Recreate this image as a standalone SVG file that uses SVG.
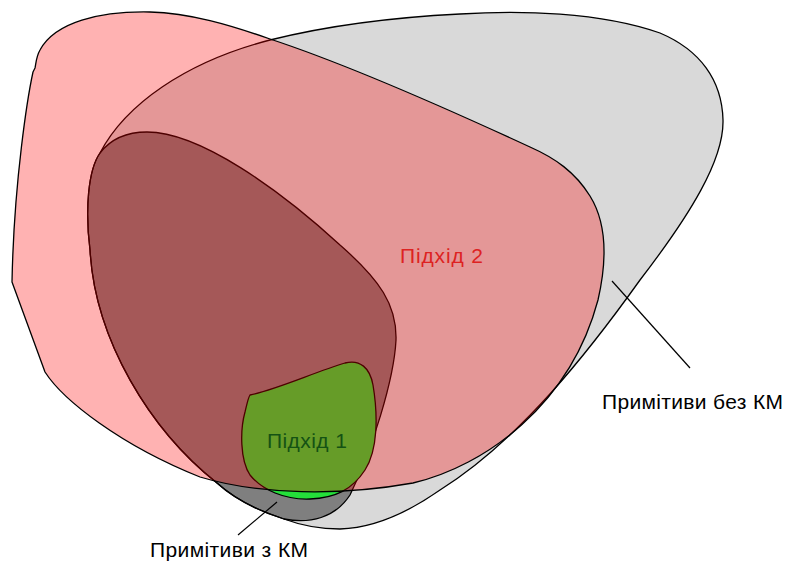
<svg xmlns="http://www.w3.org/2000/svg" width="787" height="563" viewBox="0 0 787 563">
<style>
.shape{stroke:#000;stroke-width:1.3;stroke-linejoin:round}
.lbl{font-family:"Liberation Sans","DejaVu Sans",sans-serif;font-size:21px}
.lead{stroke:#000;stroke-width:1.2;fill:none}
</style>
<rect width="787" height="563" fill="#fff"/>
<g id="primitives-all">
<path class="shape" fill="#d9d9d9" d="M100,153 C125,105 185,62 270,40 C330,25 400,17 460,14 C520,10 600,12 660,33 C700,50 722,80 723,120 C724,160 690,215 640,280 C590,350 520,440 440,490 C410,511 375,528 340,529 C320,529 300,525 284,519 C262,512 238,502 217,483 C150,430 95,340 90,250 C85,210 88,170 100,153 Z"/>
</g>
<g id="primitives-km">
<path class="shape" fill="#000" fill-opacity="0.41" d="M100,153 C110,140 125,132 147,132 C200,132 280,190 340,245 C380,280 397,305 396,340 C394,380 372,450 350,495 C335,518 310,524 284,519 C262,512 238,502 217,483 C150,430 95,340 90,250 C85,210 88,170 100,153 Z"/>
</g>
<g id="approach-1">
<path class="shape" fill="#24e03a" d="M250,395 C275,390 315,372 345,363 C360,359 370,368 373,385 C378,415 378,450 365,470 C352,490 335,498 310,499 C285,500 262,490 250,475 C240,460 240,430 245,412 C247,404 248,398 250,395 Z"/>
</g>
<g id="approach-2">
<path class="shape" fill="#ff0000" fill-opacity="0.3" d="M12,282 L45,372 C63,400 120,445 200,477 C260,495 340,496 413,483 C485,466 570,405 598,300 C606,265 608,225 590,196 C575,172 555,158 530,147 C450,110 340,62 270,39 C230,25 190,13 150,12 C100,11 55,22 40,50 C36,57 36,64 35,68 L33,72 C28,95 14,180 12,282 Z"/>
</g>
<g id="connectors">
<line class="lead" x1="612" y1="281" x2="690" y2="368"/>
<line class="lead" x1="277" y1="502" x2="238" y2="535"/>
</g>
<g id="labels">
<text class="lbl" x="400" y="263" fill="#dd2222" textLength="83">Підхід 2</text>
<text class="lbl" x="267" y="448" fill="#145214" textLength="80">Підхід 1</text>
<text class="lbl" x="602" y="409" fill="#000" textLength="181">Примітиви без КМ</text>
<text class="lbl" x="150" y="557" fill="#000" textLength="158">Примітиви з КМ</text>
</g>
</svg>
